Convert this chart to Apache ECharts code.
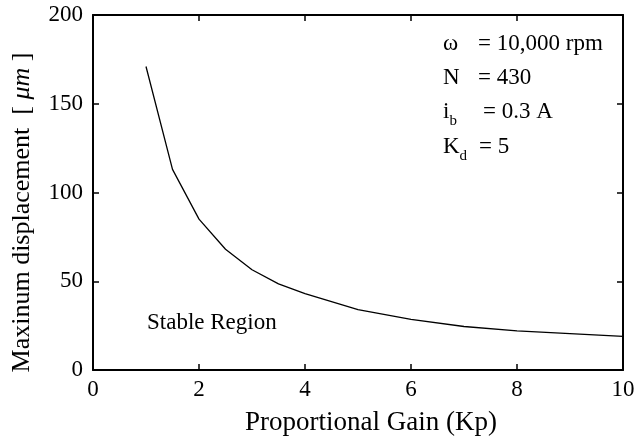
<!DOCTYPE html>
<html>
<head>
<meta charset="utf-8">
<script src="https://cdn.jsdelivr.net/npm/echarts@6/dist/echarts.min.js"></script>
<style>
  html, body { margin: 0; padding: 0; background: #fff; }
  #main { width: 638px; height: 441px; }
</style>
</head>
<body>
<div id="main"></div>
<script>
// values
var kp = [1, 1.5, 2, 2.5, 3, 3.5, 4, 5, 6, 7, 8, 9, 10];
var displacement = [171, 113, 85, 68, 56.5, 48.5, 43, 34, 28.5, 24.5, 22, 20.5, 19];
var xTicks = [0, 2, 4, 6, 8, 10];
var yTicks = [0, 50, 100, 150, 200];

var serif = '"Liberation Serif", "Times New Roman", serif';
var points = kp.map(function (x, i) { return [x, displacement[i]]; });

var myChart = echarts.init(document.getElementById('main'));

var frameAxis = {
    axisLine: { show: true, onZero: false, lineStyle: { color: '#000', width: 2 } },
    axisTick: { show: true, inside: true, length: 6, lineStyle: { color: '#000', width: 1.5 } },
    splitLine: { show: false }
};

var option = {
    backgroundColor: '#fff',
    animation: false,
    grid: { left: 93, right: 15, top: 15, bottom: 71 },
    xAxis: [
        Object.assign({
            type: 'value',
            position: 'bottom',
            min: xTicks[0],
            max: xTicks[xTicks.length - 1],
            interval: xTicks[1] - xTicks[0],
            name: 'Proportional Gain (Kp)',
            nameLocation: 'middle',
            nameGap: 39,
            nameTextStyle: { fontFamily: serif, fontSize: 27, color: '#000', padding: [0, 0, 0, 26] },
            axisLabel: { fontFamily: serif, fontSize: 23, color: '#000', margin: 8 }
        }, frameAxis),
        Object.assign({
            type: 'value',
            position: 'top',
            min: xTicks[0],
            max: xTicks[xTicks.length - 1],
            interval: xTicks[1] - xTicks[0],
            axisLabel: { show: false }
        }, frameAxis)
    ],
    yAxis: [
        Object.assign({
            type: 'value',
            position: 'left',
            min: yTicks[0],
            max: yTicks[yTicks.length - 1],
            interval: yTicks[1] - yTicks[0],
            name: 'Maxinum displacement  [ {i|μm} ]',
            nameLocation: 'middle',
            nameGap: 58,
            nameTextStyle: {
                fontFamily: serif, fontSize: 26, color: '#000',
                padding: [0, 40, 0, 0],
                rich: { i: { fontFamily: serif, fontSize: 26, fontStyle: 'italic', color: '#000' } }
            },
            axisLabel: { fontFamily: serif, fontSize: 23, color: '#000', margin: 10 }
        }, frameAxis),
        Object.assign({
            type: 'value',
            position: 'right',
            min: yTicks[0],
            max: yTicks[yTicks.length - 1],
            interval: yTicks[1] - yTicks[0],
            axisLabel: { show: false }
        }, frameAxis)
    ],
    series: [
        {
            type: 'line',
            data: points,
            showSymbol: false,
            smooth: false,
            lineStyle: { color: '#000', width: 1.3 },
            silent: true
        }
    ],
    graphic: [
        { type: 'text', x: 147, y: 323, style: { text: 'Stable Region', font: '23px ' + serif, fill: '#000', verticalAlign: 'middle' } },

        { type: 'text', x: 443, y: 44, style: { text: 'ω', font: '23px ' + serif, fill: '#000', verticalAlign: 'middle' } },
        { type: 'text', x: 478, y: 44, style: { text: '= 10,000 rpm', font: '23px ' + serif, fill: '#000', verticalAlign: 'middle' } },

        { type: 'text', x: 443, y: 78, style: { text: 'N', font: '23px ' + serif, fill: '#000', verticalAlign: 'middle' } },
        { type: 'text', x: 478, y: 78, style: { text: '= 430', font: '23px ' + serif, fill: '#000', verticalAlign: 'middle' } },

        { type: 'text', x: 443, y: 112, style: {
            text: '{m|i}{s|b}', fill: '#000', verticalAlign: 'middle',
            rich: {
                m: { fontFamily: serif, fontSize: 23, lineHeight: 34, verticalAlign: 'middle', fill: '#000' },
                s: { fontFamily: serif, fontSize: 15, lineHeight: 15, verticalAlign: 'bottom', fill: '#000' }
            }
        } },
        { type: 'text', x: 483, y: 112, style: { text: '= 0.3 A', font: '23px ' + serif, fill: '#000', verticalAlign: 'middle' } },

        { type: 'text', x: 443, y: 147, style: {
            text: '{m|K}{s|d}', fill: '#000', verticalAlign: 'middle',
            rich: {
                m: { fontFamily: serif, fontSize: 23, lineHeight: 34, verticalAlign: 'middle', fill: '#000' },
                s: { fontFamily: serif, fontSize: 15, lineHeight: 15, verticalAlign: 'bottom', fill: '#000' }
            }
        } },
        { type: 'text', x: 479, y: 147, style: { text: '= 5', font: '23px ' + serif, fill: '#000', verticalAlign: 'middle' } }
    ]
};

myChart.setOption(option);

window.onresize = function () {
    myChart.resize();
};
</script>
</body>
</html>
